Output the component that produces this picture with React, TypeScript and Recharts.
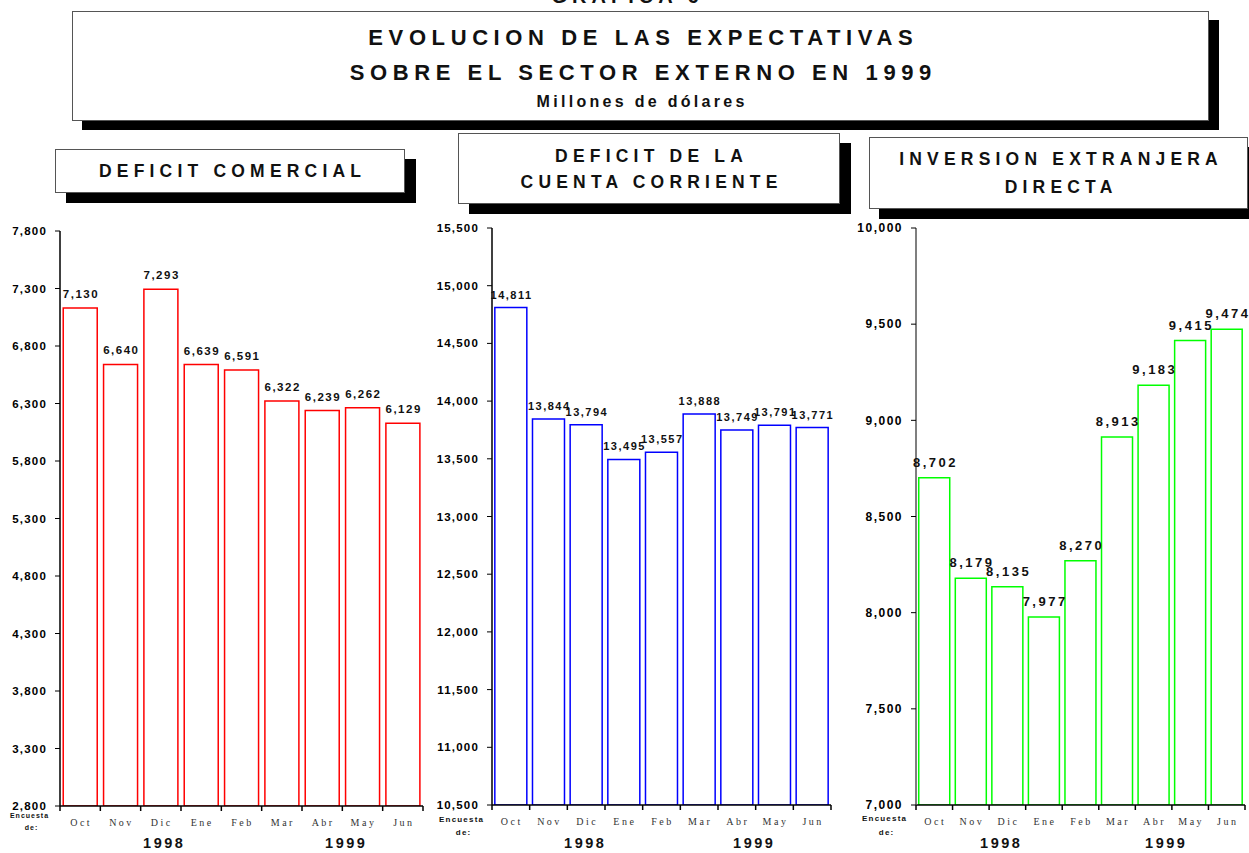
import React from 'react';
import { BarChart, Bar, XAxis, YAxis, LabelList } from 'recharts';

const months = ['Oct', 'Nov', 'Dic', 'Ene', 'Feb', 'Mar', 'Abr', 'May', 'Jun'];
const deficitComercial = [7130, 6640, 7293, 6639, 6591, 6322, 6239, 6262, 6129];
const deficitCuenta = [14811, 13844, 13794, 13495, 13557, 13888, 13749, 13791, 13771];
const inversionExtranjera = [8702, 8179, 8135, 7977, 8270, 8913, 9183, 9415, 9474];
const ticksComercial = [2800, 3300, 3800, 4300, 4800, 5300, 5800, 6300, 6800, 7300, 7800];
const ticksCuenta = [10500, 11000, 11500, 12000, 12500, 13000, 13500, 14000, 14500, 15000, 15500];
const ticksInversion = [7000, 7500, 8000, 8500, 9000, 9500, 10000];
const years = ['1998', '1999'];

const SANS = '"Liberation Sans", Arial, sans-serif';
const SERIF = '"Liberation Serif", "Times New Roman", serif';
const fmt = (v: number) => v.toLocaleString('en-US');

const MonthTick = (props: any) => {
  const { x, y, payload, index, band, count } = props;
  return (
    <g>
      <line x1={x - band / 2} x2={x - band / 2} y1={y} y2={y + 5} stroke="#000" strokeWidth={1.5} />
      {index === count - 1 && (
        <line x1={x + band / 2} x2={x + band / 2} y1={y} y2={y + 5} stroke="#000" strokeWidth={1.5} />
      )}
      <text x={x + 1} y={y + 20} textAnchor="middle" fontFamily={SERIF} fontSize={10} fill="#333" letterSpacing={2.5}>
        {payload.value}
      </text>
    </g>
  );
};

type PanelProps = {
  left: number;
  top: number;
  plotLeft: number;
  plotWidth: number;
  plotTop: number;
  plotHeight: number;
  values: number[];
  ticks: number[];
  color: string;
  axisColor: string;
  labelSize: number;
  labelSpacing: number;
  labelOffset: number;
  tickFont: number;
  tickSpacing: number;
  gap: string;
};

function Panel(p: PanelProps) {
  const data = months.map((m, i) => ({ month: m, value: p.values[i] }));
  const yw = p.plotLeft - p.left;
  const rightM = 6;
  const chartW = yw + p.plotWidth + rightM;
  const marginTop = p.plotTop - p.top;
  const xh = 40;
  const chartH = marginTop + p.plotHeight + xh;
  const band = p.plotWidth / months.length;
  const renderLabel = (lp: any) => {
    const { x, y, width, value } = lp;
    return (
      <text
        x={x + width / 2 + p.labelSpacing / 2}
        y={y - p.labelOffset}
        textAnchor="middle"
        fontFamily={SANS}
        fontWeight={700}
        fontSize={p.labelSize}
        letterSpacing={p.labelSpacing}
        fill="#111"
      >
        {fmt(value)}
      </text>
    );
  };
  return (
    <div style={{ position: 'absolute', left: p.left, top: p.top }}>
      <BarChart
        width={chartW}
        height={chartH}
        data={data}
        margin={{ top: marginTop, right: rightM, left: 0, bottom: 0 }}
        barCategoryGap={p.gap}
      >
        <XAxis
          dataKey="month"
          height={xh}
          tickLine={false}
          tickSize={0}
          tickMargin={0}
          interval={0}
          axisLine={{ stroke: '#000', strokeWidth: 1.5 }}
          tick={<MonthTick band={band} count={months.length} />}
        />
        <YAxis
          width={yw}
          type="number"
          domain={[p.ticks[0], p.ticks[p.ticks.length - 1]]}
          ticks={p.ticks}
          allowDataOverflow
          interval={0}
          tickSize={5}
          tickMargin={8}
          axisLine={{ stroke: p.axisColor, strokeWidth: 1.5 }}
          tickLine={{ stroke: '#000', strokeWidth: 1 }}
          tick={{ fontFamily: SANS, fontWeight: 700, fontSize: p.tickFont, fill: '#000', letterSpacing: p.tickSpacing }}
          tickFormatter={fmt}
        />
        <Bar dataKey="value" fill="#fff" stroke={p.color} strokeWidth={1.5} isAnimationActive={false}>
          <LabelList dataKey="value" content={renderLabel} />
        </Bar>
      </BarChart>
    </div>
  );
}

function ShadowBox(props: { left: number; top: number; width: number; height: number; dx: number; dy: number; children: React.ReactNode }) {
  return (
    <div
      style={{
        position: 'absolute',
        left: props.left,
        top: props.top,
        width: props.width,
        height: props.height,
        boxSizing: 'border-box',
        border: '1px solid #555',
        background: '#fff',
        boxShadow: `${props.dx}px ${props.dy}px 0 #000`,
        display: 'flex',
        flexDirection: 'column',
        alignItems: 'center',
        justifyContent: 'center',
      }}
    >
      {props.children}
    </div>
  );
}

function Txt(props: { x: number; y: number; size: number; spacing: number; children: React.ReactNode; weight?: number; font?: string; color?: string }) {
  return (
    <div
      style={{
        position: 'absolute',
        left: props.x,
        top: props.y,
        transform: 'translate(-50%, -50%)',
        fontFamily: props.font || SANS,
        fontWeight: props.weight ?? 700,
        fontSize: props.size,
        letterSpacing: props.spacing,
        paddingLeft: props.spacing,
        whiteSpace: 'nowrap',
        lineHeight: 1,
        color: props.color || '#111',
      }}
    >
      {props.children}
    </div>
  );
}

const lineStyle = (size: number, spacing: number): React.CSSProperties => ({
  fontFamily: SANS,
  fontWeight: 700,
  fontSize: size,
  letterSpacing: spacing,
  paddingLeft: spacing,
  whiteSpace: 'nowrap',
  color: '#111',
});

export default function App() {
  return (
    <div style={{ position: 'absolute', left: 0, top: 0, width: 1249, height: 853, background: '#fff', overflow: 'hidden' }}>
      <Txt x={625} y={-4} size={20} spacing={5}>GRAFICA 6</Txt>

      <ShadowBox left={72} top={11} width={1137} height={110} dx={10} dy={9}>
        <div style={{ ...lineStyle(22, 5.6), lineHeight: '35px', marginTop: 2 }}>EVOLUCION DE LAS EXPECTATIVAS</div>
        <div style={{ ...lineStyle(22, 5.6), lineHeight: '35px' }}>SOBRE EL SECTOR EXTERNO EN 1999</div>
        <div style={{ ...lineStyle(16, 3.3), lineHeight: '24px' }}>Millones de dólares</div>
      </ShadowBox>

      <ShadowBox left={55} top={149} width={350} height={44} dx={11} dy={10}>
        <div style={lineStyle(17.5, 5.2)}>DEFICIT COMERCIAL</div>
      </ShadowBox>
      <ShadowBox left={458} top={133} width={382} height={71} dx={11} dy={10}>
        <div style={{ ...lineStyle(17.5, 5.2), lineHeight: '26px' }}>DEFICIT DE LA</div>
        <div style={{ ...lineStyle(17.5, 5.2), lineHeight: '26px' }}>CUENTA CORRIENTE</div>
      </ShadowBox>
      <ShadowBox left={869} top={137} width={379} height={72} dx={10} dy={10}>
        <div style={{ ...lineStyle(17.5, 5.2), lineHeight: '28px' }}>INVERSION EXTRANJERA</div>
        <div style={{ ...lineStyle(17.5, 5.2), lineHeight: '28px' }}>DIRECTA</div>
      </ShadowBox>

      <Panel left={0} top={220} plotLeft={60} plotWidth={363} plotTop={231} plotHeight={575}
        values={deficitComercial} ticks={ticksComercial} color="#ff0000" axisColor="#000"
        labelSize={11.5} labelSpacing={1.5} labelOffset={10} tickFont={11.5} tickSpacing={1.2} gap="8%" />
      <Panel left={432} top={217} plotLeft={492} plotWidth={339} plotTop={228} plotHeight={577}
        values={deficitCuenta} ticks={ticksCuenta} color="#0000ff" axisColor="#000"
        labelSize={11} labelSpacing={1.5} labelOffset={9} tickFont={11.5} tickSpacing={1.2} gap="7.5%" />
      <Panel left={850} top={217} plotLeft={916} plotWidth={329} plotTop={228} plotHeight={577}
        values={inversionExtranjera} ticks={ticksInversion} color="#00ff00" axisColor="#555"
        labelSize={13} labelSpacing={2.5} labelOffset={11} tickFont={12} tickSpacing={1.5} gap="7.5%" />

      <Txt x={29} y={815} size={7} spacing={1}>Encuesta</Txt>
      <Txt x={31} y={827} size={7} spacing={1}>de:</Txt>
      <Txt x={461} y={820} size={8} spacing={1.2}>Encuesta</Txt>
      <Txt x={463} y={833} size={8} spacing={1.2}>de:</Txt>
      <Txt x={884} y={819} size={8} spacing={1.2}>Encuesta</Txt>
      <Txt x={886} y={833} size={8} spacing={1.2}>de:</Txt>

      <Txt x={163} y={843} size={14.5} spacing={2.5}>{years[0]}</Txt>
      <Txt x={345} y={843} size={14.5} spacing={2.5}>{years[1]}</Txt>
      <Txt x={584} y={843} size={14.5} spacing={2.5}>{years[0]}</Txt>
      <Txt x={753} y={843} size={14.5} spacing={2.5}>{years[1]}</Txt>
      <Txt x={1000} y={843} size={14.5} spacing={2.5}>{years[0]}</Txt>
      <Txt x={1165} y={843} size={14.5} spacing={2.5}>{years[1]}</Txt>
    </div>
  );
}
